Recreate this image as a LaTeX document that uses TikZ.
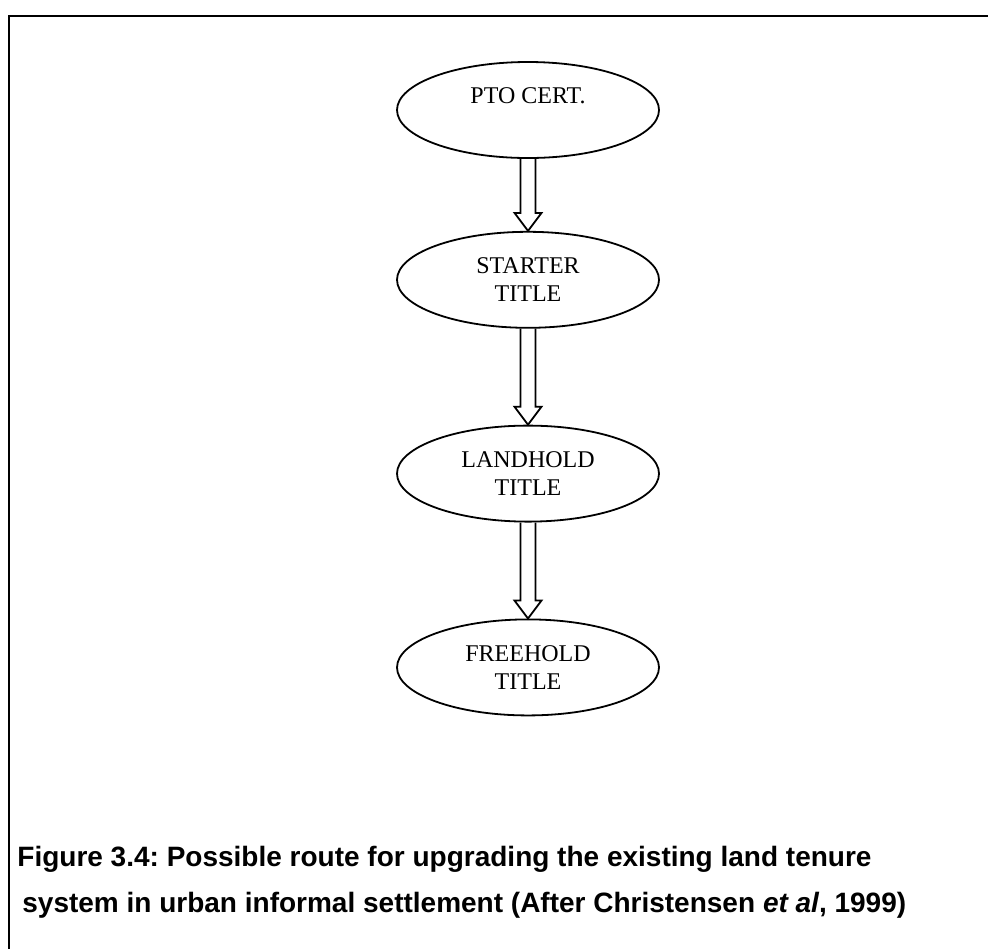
\documentclass[tikz,border=0pt]{standalone}
\usepackage{fontspec}
\setmainfont{Liberation Serif}
\newfontfamily\captionfont{Liberation Sans}
\usetikzlibrary{calc,positioning,shapes.geometric}
\tikzset{
  title/.style={draw, ellipse, line width=0.9pt, align=center, minimum width=131pt, minimum height=48pt, inner sep=0pt, font=\fontsize{12}{14}\selectfont},
  upgrade/.style={line width=0.9pt, line join=miter, to path={
    ($(\tikztostart)+(-3.75pt,0pt)$) -- ($(\tikztotarget)+(-3.75pt,9pt)$) -- ($(\tikztotarget)+(-6.75pt,9pt)$)
    -- (\tikztotarget) -- ($(\tikztotarget)+(6.75pt,9pt)$) -- ($(\tikztotarget)+(3.75pt,9pt)$) -- ($(\tikztostart)+(3.75pt,0pt)$)}},
  caption/.style={anchor=base west, inner sep=0pt, font=\captionfont\bfseries\fontsize{14}{16}\selectfont}
}
\frenchspacing
\begin{document}
\begin{tikzpicture}[x=0.5pt, y=-0.5pt]
\useasboundingbox (0,0) rectangle (988,949);
\coordinate (corner) at (9,16);
\coordinate (topend) at (988,16);
\coordinate (leftend) at (9,949);
\draw[line width=1pt] (topend) -- (corner) -- (leftend);
\node[title] (pto) at (528,110) {PTO CERT.\\\phantom{T}};
\node[title, below=36pt of pto] (starter) {STARTER\\TITLE};
\node[title, below=48pt of starter] (landhold) {LANDHOLD\\TITLE};
\node[title, below=48pt of landhold] (freehold) {FREEHOLD\\TITLE};
\draw[upgrade] (pto.south) to (starter.north);
\draw[upgrade] (starter.south) to (landhold.north);
\draw[upgrade] (landhold.south) to (freehold.north);
\node[caption] (capline) at (17,866) {Figure 3.4: Possible route for upgrading the existing land tenure};
\node[caption] (caplinetwo) at (22,912) {system in urban informal settlement (After Christensen \textit{et al}, 1999)};
\end{tikzpicture}
\end{document}
